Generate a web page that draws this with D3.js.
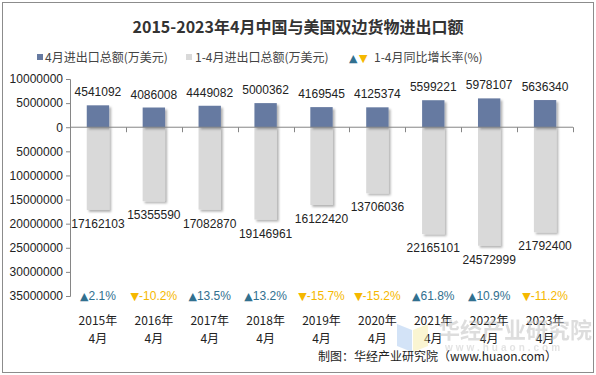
<!DOCTYPE html>
<html>
<head>
<meta charset="utf-8">
<script src="https://cdn.jsdelivr.net/npm/d3@7"></script>
<style>
  body { margin: 0; background: #fff; }
  text { font-family: "Liberation Sans", Arial, sans-serif; }
  .cjk { font-family: "Noto Sans CJK SC", sans-serif; }
  .tri { font-family: "DejaVu Sans", sans-serif; }
</style>
</head>
<body>
<div id="box-div"></div>
<script>
// data
const years = ['2015年', '2016年', '2017年', '2018年', '2019年', '2020年', '2021年', '2022年', '2023年']
const aprilTotal = [4541092, 4086008, 4449082, 5000362, 4169545, 4125374, 5599221, 5978107, 5636340]
const ytdTotal = [17162103, 15355590, 17082870, 19146961, 16122420, 13706036, 22165101, 24572999, 21792400]
const growth = [2.1, -10.2, 13.5, 13.2, -15.7, -15.2, 61.8, 10.9, -11.2]
const yTicks = [10000000, 5000000, 0, -5000000, -10000000, -15000000, -20000000, -25000000, -30000000, -35000000]

const dms = {
    width: 596,
    height: 375,
    margin: { top: 79, right: 23, bottom: 79, left: 70 }
}
dms.chartWidth = dms.width - dms.margin.left - dms.margin.right
dms.chartHeight = dms.height - dms.margin.top - dms.margin.bottom

const colorApril = '#667aa1'
const colorYtd = '#d9d9d9'
const colorUp = '#31708f'
const colorDown = '#f5b800'

const box = d3.select('#box-div').append('svg')
    .attr('width', dms.width)
    .attr('height', dms.height)

// shadow
const defs = box.append('defs')
defs.append('filter')
    .attr('id', 'shadow')
    .attr('x', '-30%').attr('y', '-10%').attr('width', '160%').attr('height', '130%')
    .append('feDropShadow')
    .attr('dx', 2).attr('dy', 2).attr('stdDeviation', 1.3)
    .attr('flood-color', '#000').attr('flood-opacity', 0.3)

// frame
box.append('rect')
    .attr('x', 2.5).attr('y', 2.5)
    .attr('width', dms.width - 5).attr('height', dms.height - 5)
    .attr('fill', 'none').attr('stroke', '#8c8c8c')

// title
box.append('text')
    .attr('class', 'cjk')
    .attr('x', 298).attr('y', 33)
    .attr('text-anchor', 'middle')
    .attr('font-size', 16).attr('font-weight', 'bold')
    .attr('fill', '#333')
    .text('2015-2023年4月中国与美国双边货物进出口额')

// legend
const legend = box.append('g').attr('font-size', 12)
legend.append('rect').attr('x', 37).attr('y', 54).attr('width', 6).attr('height', 6).attr('fill', colorApril)
legend.append('text').attr('x', 45).attr('y', 62).attr('class', 'cjk').attr('fill', '#444').text('4月进出口总额(万美元)')
legend.append('rect').attr('x', 186).attr('y', 54).attr('width', 6).attr('height', 6).attr('fill', colorYtd)
legend.append('text').attr('x', 195).attr('y', 62).attr('class', 'cjk').attr('fill', '#444').text('1-4月进出口总额(万美元)')
legend.append('text').attr('class', 'tri').attr('x', 349).attr('y', 62).attr('fill', colorUp).attr('font-size', 11).text('▲')
legend.append('text').attr('class', 'tri').attr('x', 359).attr('y', 62).attr('fill', colorDown).attr('font-size', 11).text('▼')
legend.append('text').attr('x', 374).attr('y', 62).attr('class', 'cjk').attr('fill', '#444').text('1-4月同比增长率(%)')

const content = box.append('g')
    .attr('transform', `translate(${dms.margin.left}, ${dms.margin.top})`)

const xScale = d3.scaleBand()
    .domain(years)
    .range([0, dms.chartWidth])
    .paddingInner(0.6)
    .paddingOuter(0.3)

const yScale = d3.scaleLinear()
    .domain([-35000000, 10000000])
    .range([dms.chartHeight, 0])

// y axis
const yAxis = content.append('g')
    .call(d3.axisLeft(yScale).tickValues(yTicks).tickSize(4).tickFormat(d => Math.abs(d)))
yAxis.select('.domain').attr('stroke', '#868686')
yAxis.selectAll('.tick line').attr('stroke', '#868686')
yAxis.selectAll('.tick text')
    .attr('font-size', 12).attr('fill', '#222')
    .attr('font-family', '"Liberation Sans", Arial, sans-serif')

// bars
content.append('g').selectAll('rect')
    .data(ytdTotal)
    .join('rect')
    .attr('x', (d, i) => xScale(years[i]))
    .attr('y', yScale(0))
    .attr('width', xScale.bandwidth())
    .attr('height', d => yScale(-d) - yScale(0))
    .attr('fill', colorYtd)
    .attr('filter', 'url(#shadow)')

content.append('g').selectAll('rect')
    .data(aprilTotal)
    .join('rect')
    .attr('x', (d, i) => xScale(years[i]))
    .attr('y', d => yScale(d))
    .attr('width', xScale.bandwidth())
    .attr('height', d => yScale(0) - yScale(d))
    .attr('fill', colorApril)
    .attr('filter', 'url(#shadow)')

// x axis at zero
const xAxis = content.append('g')
    .attr('transform', `translate(0, ${yScale(0)})`)
xAxis.append('line')
    .attr('x1', 0).attr('x2', dms.chartWidth)
    .attr('stroke', '#868686')
xAxis.selectAll('.xt')
    .data(d3.range(years.length + 1))
    .join('line')
    .attr('class', 'xt')
    .attr('x1', i => Math.round(i * dms.chartWidth / years.length) + 0.5)
    .attr('x2', i => Math.round(i * dms.chartWidth / years.length) + 0.5)
    .attr('y1', 0).attr('y2', 5)
    .attr('stroke', '#868686')

const center = i => xScale(years[i]) + xScale.bandwidth() / 2

// value labels
content.append('g').selectAll('text')
    .data(aprilTotal)
    .join('text')
    .attr('x', (d, i) => center(i))
    .attr('y', d => yScale(d) - 9)
    .attr('text-anchor', 'middle')
    .attr('font-size', 12).attr('fill', '#222')
    .text(d => d)

content.append('g').selectAll('text')
    .data(ytdTotal)
    .join('text')
    .attr('x', (d, i) => center(i))
    .attr('y', d => yScale(-d) + 18)
    .attr('text-anchor', 'middle')
    .attr('font-size', 12).attr('fill', '#222')
    .text(d => d)

// growth labels
const gl = content.append('g').selectAll('text')
    .data(growth)
    .join('text')
    .attr('x', (d, i) => center(i))
    .attr('y', yScale(-35000000) + 4)
    .attr('text-anchor', 'middle')
    .attr('font-size', 12)
    .attr('fill', d => d >= 0 ? colorUp : colorDown)
gl.append('tspan').attr('class', 'tri').attr('font-size', 11).text(d => d >= 0 ? '▲' : '▼')
gl.append('tspan').text(d => d + '%')

// category labels
const cat = content.append('g').selectAll('text')
    .data(years)
    .join('text')
    .attr('class', 'cjk')
    .attr('x', (d, i) => center(i))
    .attr('y', dms.chartHeight + 29)
    .attr('text-anchor', 'middle')
    .attr('font-size', 12).attr('fill', '#222')
cat.append('tspan').text(d => d)
cat.append('tspan').attr('x', (d, i) => center(i)).attr('dy', 18).text('4月')

// watermark
const wm = box.append('g').attr('opacity', 0.5)
wm.append('polygon').attr('points', '397,324 412,330 412,352 397,346').attr('fill', '#a9c8f0')
wm.append('polygon').attr('points', '413,330 428,324 428,346 413,352').attr('fill', '#f7eca6')
wm.append('text').attr('class', 'cjk').attr('x', 438).attr('y', 338)
    .attr('font-size', 22).attr('font-weight', 'bold').attr('fill', '#bdbdbd').text('华经产业研究院')
wm.append('text').attr('x', 445).attr('y', 351)
    .attr('font-size', 10).attr('font-weight', 'bold').attr('fill', '#c8c8c8').attr('letter-spacing', 3).text('www.huaon.com')

// source
box.append('text')
    .attr('class', 'cjk')
    .attr('x', 318).attr('y', 361)
    .attr('font-size', 12).attr('fill', '#222')
    .text('制图：华经产业研究院（www.huaon.com）')
</script>
</body>
</html>
